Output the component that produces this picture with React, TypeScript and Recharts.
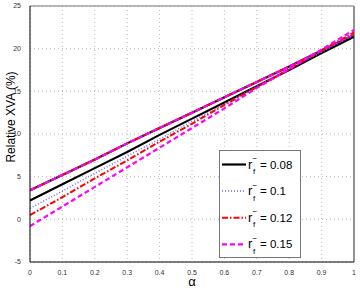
import React from "react";
import {
  LineChart,
  Line,
  XAxis,
  YAxis,
  CartesianGrid,
  ReferenceLine,
} from "recharts";

const alpha = [0, 0.1, 0.2, 0.3, 0.4, 0.5, 0.6, 0.7, 0.8, 0.9, 1];
const rf008 = [2.2, 4.1, 6.0, 7.9, 9.9, 11.8, 13.7, 15.6, 17.5, 19.5, 21.4];
const rf010 = [1.3, 3.3, 5.4, 7.4, 9.4, 11.5, 13.5, 15.6, 17.6, 19.6, 21.6];
const rf012 = [0.5, 2.6, 4.8, 6.9, 9.1, 11.2, 13.4, 15.5, 17.6, 19.8, 21.9];
const rf015 = [-0.8, 1.5, 3.8, 6.1, 8.4, 10.7, 13.0, 15.4, 17.6, 19.9, 22.2];
const upper = [3.4, 5.2, 7.0, 8.9, 10.7, 12.5, 14.3, 16.1, 17.9, 19.8, 21.6];

const xTicks = [0, 0.1, 0.2, 0.3, 0.4, 0.5, 0.6, 0.7, 0.8, 0.9, 1];
const yTicks = [-5, 0, 5, 10, 15, 20, 25];
const legendLabels = ["0.08", "0.1", "0.12", "0.15"];

const data = alpha.map((a, i) => ({
  a,
  k1: rf008[i],
  k2: rf010[i],
  k3: rf012[i],
  k4: rf015[i],
  u: upper[i],
}));

const styles = [
  { color: "#000000", dash: undefined, width: 2.2 },
  { color: "#6a6aff", dash: "1 2", width: 1.5 },
  { color: "#ff0000", dash: "6 2 1.5 2", width: 2 },
  { color: "#ff00ff", dash: "5 3", width: 2.2 },
];

const font = "'Liberation Sans', Arial, sans-serif";

// legend drawn by hand so it doesn't eat chart space
function LegendBox() {
  return (
    <svg width={82} height={108} style={{ position: "absolute", left: 219, top: 150 }}>
      <rect x={0.5} y={0.5} width={81} height={107} fill="#fff" stroke="#777" />
      {legendLabels.map((lab, i) => {
        const cy = 14.5 + i * 26.6;
        const s = styles[i];
        return (
          <g key={lab} fontFamily={font} fill="#000">
            <line
              x1={3}
              x2={27}
              y1={cy}
              y2={cy}
              stroke={s.color}
              strokeWidth={s.width}
              strokeDasharray={s.dash}
            />
            <text x={29} y={cy + 4} fontSize={13}>r</text>
            <text x={33.5} y={cy - 3.5} fontSize={8}>−</text>
            <text x={34} y={cy + 9.5} fontSize={8}>f</text>
            <text x={41} y={cy + 4} fontSize={11.5}>= {lab}</text>
          </g>
        );
      })}
    </svg>
  );
}

export default function App() {
  return (
    <div style={{ position: "absolute", left: 0, top: 0, width: 360, height: 289, background: "#fff" }}>
      <LineChart
        width={360}
        height={289}
        data={data}
        margin={{ top: 6, right: 6, left: 0, bottom: 0 }}
      >
        <CartesianGrid
          stroke="#bbbbbb"
          strokeDasharray="1 3"
          horizontalValues={yTicks}
          verticalValues={xTicks}
        />
        <XAxis
          dataKey="a"
          type="number"
          domain={[0, 1]}
          ticks={xTicks}
          height={27}
          stroke="#000"
          tickLine={false}
          tickMargin={2}
          tick={{ fontSize: 7, fill: "#333", fontFamily: font }}
          allowDataOverflow
        />
        <YAxis
          type="number"
          domain={[-5, 25]}
          ticks={yTicks}
          width={30}
          stroke="#000"
          tickLine={false}
          tickMargin={3}
          tick={{ fontSize: 7, fill: "#333", fontFamily: font }}
          allowDataOverflow
        />
        <ReferenceLine y={25} stroke="#777" strokeWidth={1.2} />
        <ReferenceLine x={1} stroke="#888" strokeWidth={1.8} />
        <Line dataKey="u" stroke={styles[0].color} strokeWidth={styles[0].width} dot={false} isAnimationActive={false} />
        <Line dataKey="u" stroke={styles[1].color} strokeWidth={styles[1].width} strokeDasharray={styles[1].dash} dot={false} isAnimationActive={false} />
        <Line dataKey="u" stroke={styles[2].color} strokeWidth={styles[2].width} strokeDasharray={styles[2].dash} dot={false} isAnimationActive={false} />
        <Line dataKey="u" stroke={styles[3].color} strokeWidth={styles[3].width} strokeDasharray={styles[3].dash} dot={false} isAnimationActive={false} />
        <Line dataKey="k1" stroke={styles[0].color} strokeWidth={styles[0].width} dot={false} isAnimationActive={false} />
        <Line dataKey="k2" stroke={styles[1].color} strokeWidth={styles[1].width} strokeDasharray={styles[1].dash} dot={false} isAnimationActive={false} />
        <Line dataKey="k3" stroke={styles[2].color} strokeWidth={styles[2].width} strokeDasharray={styles[2].dash} dot={false} isAnimationActive={false} />
        <Line dataKey="k4" stroke={styles[3].color} strokeWidth={styles[3].width} strokeDasharray={styles[3].dash} dot={false} isAnimationActive={false} />
        <text x={11} y={117} transform="rotate(-90 11 117)" textAnchor="middle" dominantBaseline="central" fontSize={12} fontFamily={font} fill="#000">
          Relative XVA (%)
        </text>
        <text x={192} y={286} textAnchor="middle" fontSize={13} fontFamily={font} fill="#000">
          α
        </text>
      </LineChart>
      <LegendBox />
    </div>
  );
}
